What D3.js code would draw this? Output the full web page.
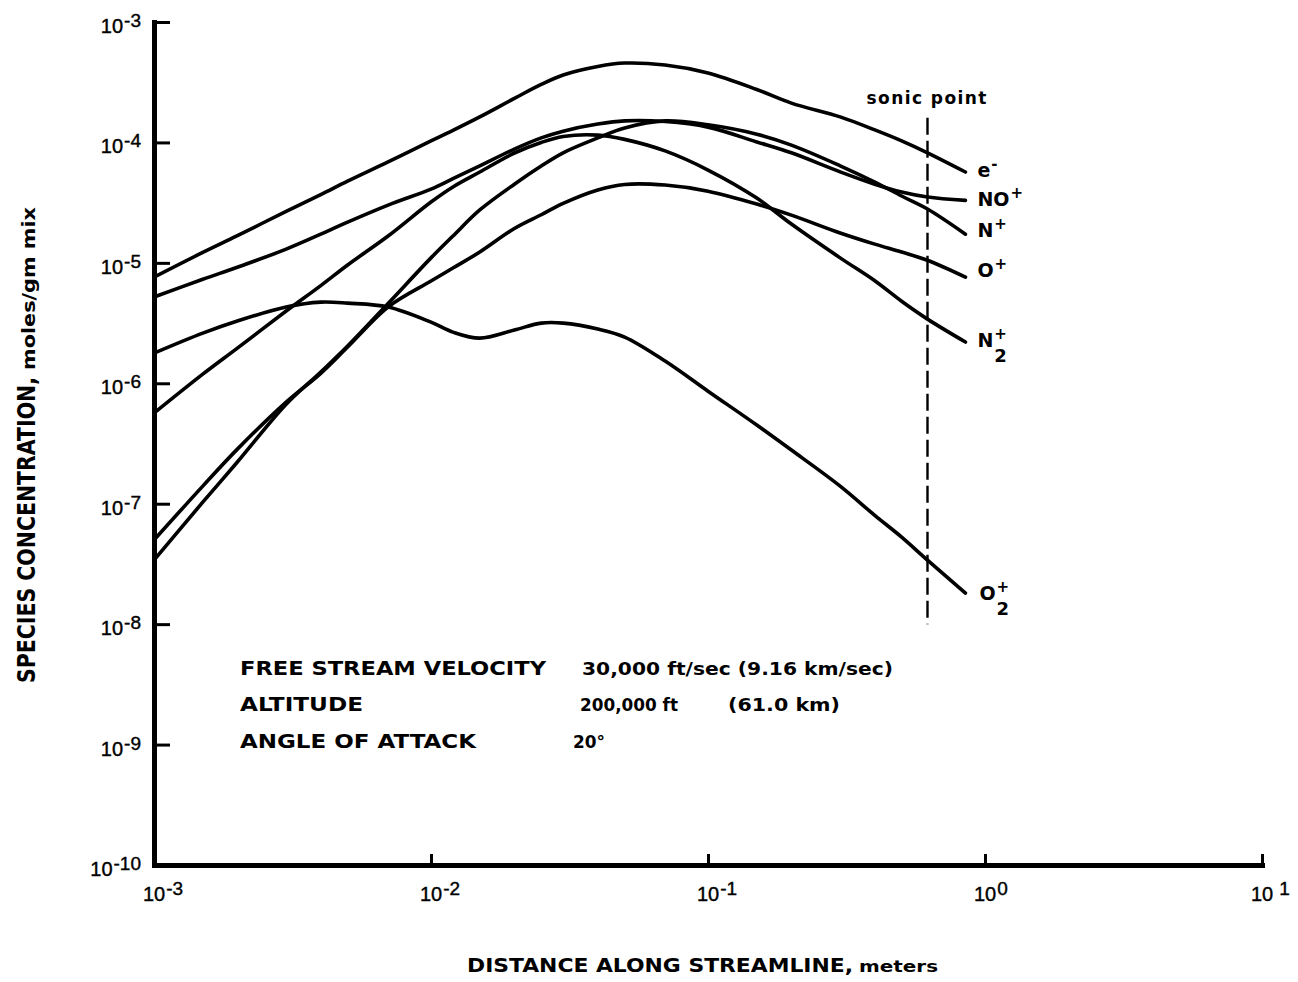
<!DOCTYPE html>
<html>
<head>
<meta charset="utf-8">
<script src="https://cdn.jsdelivr.net/npm/d3@7"></script>
<style>
  html, body { margin: 0; padding: 0; background: #fff; }
  svg { display: block; }
  .tick-label { font-family: "Liberation Sans", Arial, sans-serif; font-size: 20px; fill: #000; stroke: #000; stroke-width: 0.4; }
  .bold { font-family: "DejaVu Sans", "Liberation Sans", sans-serif; font-weight: bold; fill: #000; }
</style>
</head>
<body>
<svg id="chart" width="1298" height="982"></svg>
<script>
// Distance along the streamline (m) at which each concentration is read
const distance = [0.001, 0.0015, 0.002, 0.003, 0.004, 0.005, 0.007, 0.01, 0.012, 0.015,
                  0.02, 0.025, 0.03, 0.04, 0.05, 0.07, 0.1, 0.15, 0.2, 0.3, 0.4, 0.5, 0.62, 0.85];

// Species concentrations, moles/gm mix
const electrons = [7.6e-6, 1.22e-5, 1.68e-5, 2.68e-5, 3.69e-5, 4.78e-5, 6.9e-5, 1.03e-4, 1.26e-4, 1.63e-4,
                   2.32e-4, 3.03e-4, 3.63e-4, 4.27e-4, 4.56e-4, 4.39e-4, 3.77e-4, 2.75e-4, 2.12e-4, 1.63e-4,
                   1.27e-4, 1.03e-4, 8.2e-5, 5.68e-5];
const noPlus    = [5.2e-6, 7.3e-6, 9.2e-6, 1.30e-5, 1.73e-5, 2.18e-5, 3.02e-5, 4.1e-5, 5.0e-5, 6.4e-5,
                   8.8e-5, 1.09e-4, 1.24e-4, 1.42e-4, 1.51e-4, 1.49e-4, 1.34e-4, 1.01e-4, 8.2e-5, 5.7e-5,
                   4.5e-5, 3.87e-5, 3.52e-5, 3.3e-5];
const nPlus     = [3.4e-8, 1.03e-7, 2.22e-7, 6.7e-7, 1.24e-6, 2.04e-6, 4.6e-6, 1.10e-5, 1.67e-5, 2.75e-5,
                   4.5e-5, 6.37e-5, 8.2e-5, 1.09e-4, 1.32e-4, 1.51e-4, 1.40e-4, 1.17e-4, 9.5e-5, 6.4e-5,
                   4.69e-5, 3.59e-5, 2.80e-5, 1.73e-5];
const oPlus     = [5.0e-8, 1.40e-7, 2.84e-7, 6.98e-7, 1.21e-6, 2.0e-6, 4.3e-6, 7.06e-6, 9.06e-6, 1.23e-5,
                   1.93e-5, 2.51e-5, 3.12e-5, 4.03e-5, 4.48e-5, 4.43e-5, 3.94e-5, 3.08e-5, 2.49e-5, 1.77e-5,
                   1.43e-5, 1.23e-5, 1.05e-5, 7.6e-6];
const n2Plus    = [5.65e-7, 1.19e-6, 1.96e-6, 3.98e-6, 6.47e-6, 9.6e-6, 1.67e-5, 3.2e-5, 4.27e-5, 5.68e-5,
                   8.17e-5, 1.0e-4, 1.12e-4, 1.15e-4, 1.06e-4, 8.5e-5, 5.9e-5, 3.45e-5, 2.10e-5, 1.10e-5,
                   7.1e-6, 4.8e-6, 3.41e-6, 2.2e-6];
const o2Plus    = [1.78e-6, 2.61e-6, 3.29e-6, 4.30e-6, 4.72e-6, 4.63e-6, 4.30e-6, 3.22e-6, 2.66e-6, 2.37e-6,
                   2.77e-6, 3.16e-6, 3.16e-6, 2.82e-6, 2.42e-6, 1.53e-6, 8.6e-7, 4.5e-7, 2.79e-7, 1.40e-7,
                   8.0e-8, 5.28e-8, 3.40e-8, 1.81e-8];

// Curve labels: base text, subscript, superscript
const speciesNames = [
  { base: "e",  sub: "",  sup: "-" },
  { base: "NO", sub: "",  sup: "+" },
  { base: "N",  sub: "",  sup: "+" },
  { base: "O",  sub: "",  sup: "+" },
  { base: "N",  sub: "2", sup: "+" },
  { base: "O",  sub: "2", sup: "+" }
];
const speciesValues = [electrons, noPlus, nPlus, oPlus, n2Plus, o2Plus];

// Axis ticks
const yTickExponents = [-3, -4, -5, -6, -7, -8, -9, -10];
const xTickExponents = [-3, -2, -1, 0, 1];

// Sonic point location and the concentration span of its marker
const sonicPoint = 0.62;
const sonicSpan = [1.6e-4, 1.0e-8];

// Flight condition annotation
const conditionNames  = ["FREE STREAM VELOCITY", "ALTITUDE", "ANGLE OF ATTACK"];
const conditionValues = [["30,000 ft/sec (9.16 km/sec)"], ["200,000 ft", "(61.0 km)"], ["20°"]];

// ---------------------------------------------------------------
const svg = d3.select("#chart");
const x = d3.scaleLog().domain([1e-3, 10]).range([154, 1262]);
const y = d3.scaleLog().domain([1e-10, 1e-3]).range([865, 22]);

// Curves
const line = d3.line()
  .x((d, i) => x(distance[i]))
  .y(d => y(d))
  .curve(d3.curveCatmullRom.alpha(0.5));

svg.append("g")
  .selectAll("path")
  .data(speciesValues)
  .join("path")
  .attr("d", line)
  .attr("fill", "none")
  .attr("stroke", "#000")
  .attr("stroke-width", 3.6)
  .attr("stroke-linejoin", "round")
  .attr("stroke-linecap", "round");

// Sonic point marker
svg.append("line")
  .attr("x1", x(sonicPoint)).attr("x2", x(sonicPoint))
  .attr("y1", y(sonicSpan[0])).attr("y2", y(sonicSpan[1]))
  .attr("stroke", "#000")
  .attr("stroke-width", 2.4)
  .attr("stroke-dasharray", "17,6");

svg.append("text")
  .attr("class", "bold")
  .attr("x", x(sonicPoint) - 61)
  .attr("y", 104)
  .attr("font-size", 17)
  .attr("textLength", 120)
  .attr("lengthAdjust", "spacing")
  .text("sonic point");

// Y axis
const yAxis = d3.axisLeft(y)
  .tickValues(yTickExponents.map(e => Math.pow(10, e)))
  .tickSizeInner(-16)
  .tickSizeOuter(0)
  .tickFormat(() => "");
const gy = svg.append("g").attr("transform", "translate(154,0)").call(yAxis);
gy.select(".domain").attr("stroke-width", 5).attr("stroke-linecap", "square");
gy.selectAll(".tick line").attr("stroke-width", 3);

const yLab = svg.append("g");
yTickExponents.forEach(e => {
  const t = yLab.append("text")
    .attr("class", "tick-label")
    .attr("x", 141)
    .attr("y", y(Math.pow(10, e)) + 11)
    .attr("text-anchor", "end");
  t.append("tspan").text("10");
  t.append("tspan").attr("dy", -6).attr("dx", 1).attr("font-size", 19).text(String(e));
});

// X axis
const xAxis = d3.axisBottom(x)
  .tickValues(xTickExponents.map(e => Math.pow(10, e)))
  .tickSizeInner(-11)
  .tickSizeOuter(0)
  .tickFormat(() => "");
const gx = svg.append("g").attr("transform", "translate(0,865)").call(xAxis);
gx.select(".domain").attr("stroke-width", 5).attr("stroke-linecap", "square");
gx.selectAll(".tick line").attr("stroke-width", 3);

const xLab = svg.append("g");
xTickExponents.forEach(e => {
  const t = xLab.append("text")
    .attr("class", "tick-label")
    .attr("x", x(Math.pow(10, e)) - 11)
    .attr("y", 901);
  t.append("tspan").text("10");
  t.append("tspan").attr("dy", -6).attr("font-size", 19).attr("dx", e === 1 ? 6 : 1).text(String(e));
});

// Axis titles
svg.append("text")
  .attr("class", "bold")
  .attr("x", 467).attr("y", 972)
  .attr("font-size", 20)
  .attr("textLength", 386)
  .attr("lengthAdjust", "spacingAndGlyphs")
  .text("DISTANCE ALONG STREAMLINE,");
svg.append("text")
  .attr("class", "bold")
  .attr("x", 859).attr("y", 972)
  .attr("font-size", 16)
  .attr("textLength", 79)
  .attr("lengthAdjust", "spacingAndGlyphs")
  .text("meters");

const yTitle = svg.append("g").attr("transform", "translate(35,0) rotate(-90)");
yTitle.append("text")
  .attr("class", "bold")
  .attr("x", -683).attr("y", 0)
  .attr("font-size", 24)
  .attr("textLength", 306)
  .attr("lengthAdjust", "spacingAndGlyphs")
  .text("SPECIES CONCENTRATION,");
yTitle.append("text")
  .attr("class", "bold")
  .attr("x", -370).attr("y", 0)
  .attr("font-size", 18)
  .attr("textLength", 163)
  .attr("lengthAdjust", "spacingAndGlyphs")
  .text("moles/gm mix");

// Curve labels at the end of each curve
const labelShift = [[12, 5], [12, 6], [12, 3], [12, 0], [12, 5], [14, 7]];
speciesNames.forEach((s, i) => {
  const vals = speciesValues[i];
  const px = x(distance[distance.length - 1]) + labelShift[i][0];
  const py = y(vals[vals.length - 1]) + labelShift[i][1];
  const base = svg.append("text")
    .attr("class", "bold")
    .attr("x", px).attr("y", py)
    .attr("font-size", 19)
    .text(s.base);
  const w = base.node().getComputedTextLength();
  svg.append("text")
    .attr("class", "bold")
    .attr("x", px + w + 1).attr("y", py - 8)
    .attr("font-size", 15)
    .text(s.sup);
  if (s.sub) {
    svg.append("text")
      .attr("class", "bold")
      .attr("x", px + w + 1).attr("y", py + 15)
      .attr("font-size", 18)
      .text(s.sub);
  }
});

// Flight conditions
const rowY = [675, 711, 748];
const nameWidths = [306, 123, 236];
const valueX = [[582], [580, 728], [573]];
const valueWidths = [[311], [98, 112], [32]];
conditionNames.forEach((name, i) => {
  svg.append("text")
    .attr("class", "bold")
    .attr("x", 240).attr("y", rowY[i])
    .attr("font-size", 19)
    .attr("textLength", nameWidths[i])
    .attr("lengthAdjust", "spacingAndGlyphs")
    .text(name);
  conditionValues[i].forEach((v, j) => {
    svg.append("text")
      .attr("class", "bold")
      .attr("x", valueX[i][j]).attr("y", rowY[i])
      .attr("font-size", 18)
      .attr("textLength", valueWidths[i][j])
      .attr("lengthAdjust", "spacingAndGlyphs")
      .text(v);
  });
});
</script>
</body>
</html>
